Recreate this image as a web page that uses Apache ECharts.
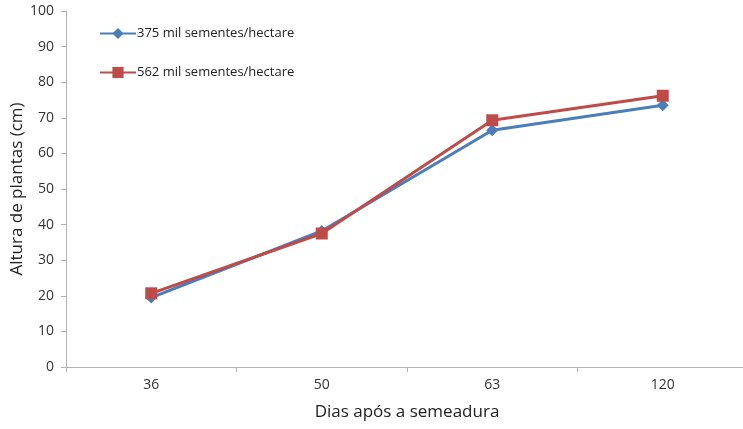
<!DOCTYPE html>
<html>
<head>
<meta charset="utf-8">
<script src="https://cdn.jsdelivr.net/npm/echarts@6/dist/echarts.min.js"></script>
<style>
html,body{margin:0;padding:0;background:#fff;}
#chart{width:743px;height:429px;}
</style>
</head>
<body>
<div id="chart"></div>
<script>
// Days after sowing
const categories = ['36', '50', '63', '120'];
// Plant height (cm) for each seeding density
const series375 = [19.5, 38.2, 66.5, 73.5];
const series562 = [20.7, 37.5, 69.3, 76.2];
const seriesNames = ['375 mil sementes/hectare', '562 mil sementes/hectare'];

const FONT = '"Open Sans", "Liberation Sans", sans-serif';
const chart = echarts.init(document.getElementById('chart'));
chart.setOption({
  animation: false,
  backgroundColor: '#fff',
  grid: { left: 66, right: -5, top: 11, bottom: 62, containLabel: false, outerBoundsMode: 'none' },
  legend: {
    orient: 'vertical',
    left: 94, top: 22,
    itemGap: 26,
    itemWidth: 36, itemHeight: 14,
    textStyle: { fontFamily: FONT, fontSize: 13, color: '#222', padding: [0, 0, 0, -4] },
    data: seriesNames
  },
  xAxis: {
    type: 'category',
    data: categories,
    boundaryGap: true,
    name: 'Dias após a semeadura',
    nameLocation: 'middle',
    nameGap: 37,
    nameMoveOverlap: false,
    nameTextStyle: { fontFamily: FONT, fontSize: 17, color: '#222' },
    axisLine: { lineStyle: { color: '#b3b3b3', width: 1 } },
    axisTick: { show: true, length: 5, lineStyle: { color: '#b3b3b3' } },
    axisLabel: { fontFamily: FONT, fontSize: 14, color: '#333', margin: 11 }
  },
  yAxis: {
    type: 'value',
    min: 0, max: 100, interval: 10,
    name: 'Altura de plantas (cm)',
    nameLocation: 'middle',
    nameGap: 40,
    nameMoveOverlap: false,
    nameTextStyle: { fontFamily: FONT, fontSize: 17, color: '#222' },
    axisLine: { show: true, lineStyle: { color: '#b3b3b3', width: 1 } },
    axisTick: { show: true, length: 5, lineStyle: { color: '#b3b3b3' } },
    axisLabel: { fontFamily: FONT, fontSize: 14, color: '#333', margin: 12 },
    splitLine: { show: false }
  },
  series: [
    {
      name: seriesNames[0], type: 'line', data: series375,
      symbol: 'diamond', symbolSize: 12,
      lineStyle: { color: '#4a7ebb', width: 3 },
      itemStyle: { color: '#4a7ebb' },
      z: 2
    },
    {
      name: seriesNames[1], type: 'line', data: series562,
      symbol: 'rect', symbolSize: 12,
      lineStyle: { color: '#be4b48', width: 3 },
      itemStyle: { color: '#be4b48' },
      z: 3
    }
  ]
});
</script>
</body>
</html>
